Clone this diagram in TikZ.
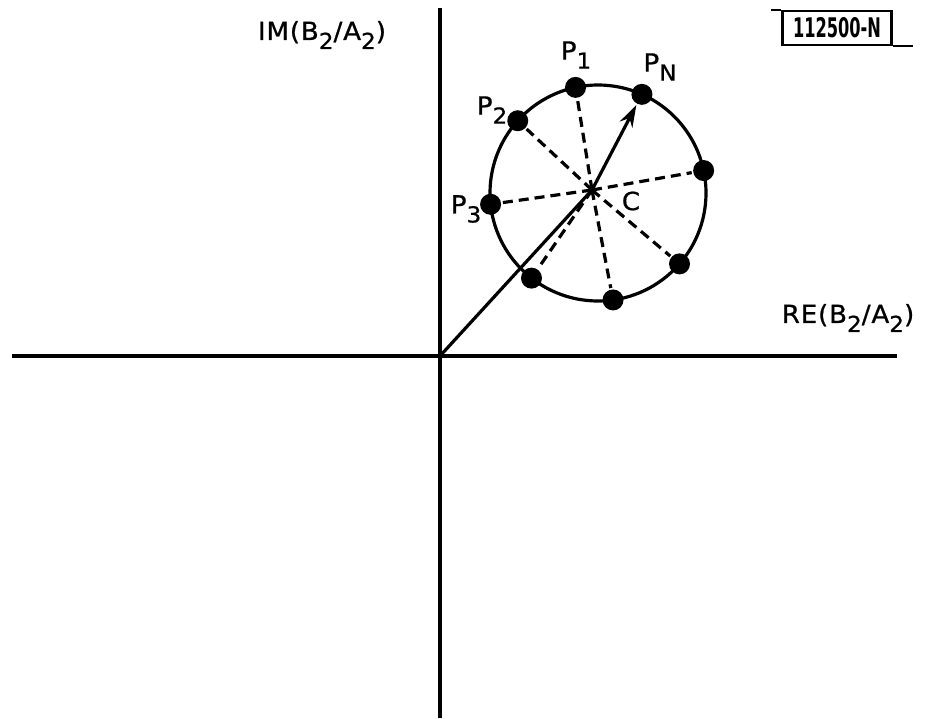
\documentclass[tikz,border=0pt]{standalone}
\usepackage{fontspec}
\setmainfont{DejaVu Sans}[FakeStretch=1.05, LetterSpace=3, FakeBold=0.8]
\newfontfamily\tagfont{DejaVu Sans}[FakeStretch=0.6]
\usetikzlibrary{arrows.meta, positioning}
\newcommand{\lowsub}[1]{\raisebox{-4.5pt}{\fontsize{11}{12}\selectfont #1}}

\begin{document}
\begin{tikzpicture}[x=0.5pt, y=-0.5pt, line width=1.6pt,
    every node/.style={font=\fontsize{12.5}{14}\selectfont},
    dot/.style={circle, fill, inner sep=0pt, minimum size=10.5pt},
    spoke/.style={dash pattern=on 5pt off 3pt, line width=1.6pt}]
  \useasboundingbox (0,0) rectangle (925,718);

  % axes
  \draw (440,8) -- (440,718);
  \draw (12,356) -- (897,356);
  \coordinate (o) at (440,356);
  \node at (322,35) {IM(B\lowsub{2}/A\lowsub{2})};
  \node at (848,318) {RE(B\lowsub{2}/A\lowsub{2})};

  % circle of points (y runs down, so angles are clockwise)
  \coordinate (c) at (592,190);
  \draw (598,193) circle (54pt);
  \foreach \a/\n in {-102/p1, -66/pn, -138/p2, -186/p3, -12/pe, 41/pf, 82/pg, -232/ph}
    \path (598,193) ++(\a:108) node[dot] (\n) {};
  \foreach \n in {p1, p2, p3, pe, pf, pg, ph}
    \draw[spoke] (c) -- (\n);

  % vectors
  \draw (o) -- (c);
  \draw[-{Stealth[length=11pt, width=7pt]}] (c) -- (pn);

  \node at (576,55) {P\lowsub{1}};
  \node at (660,67) {P\lowsub{N}};
  \node at (492,110) {P\lowsub{2}};
  \node at (466,209) {P\lowsub{3}};
  \node at (631,201) {C};

  % tag
  \node[draw, line width=1.2pt, minimum width=54.5pt, minimum height=17pt, inner sep=1pt,
    font=\tagfont\bfseries\fontsize{13.5}{14}\selectfont] (tag) at (837,28) {112500-N};
  \draw[line width=1.2pt] (tag.north west) -- ++(-10,0);
  \draw[line width=1.2pt] (tag.south east) -- ++(20,0);
\end{tikzpicture}
\end{document}
